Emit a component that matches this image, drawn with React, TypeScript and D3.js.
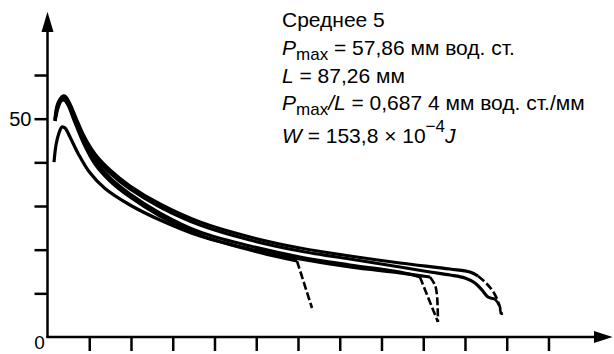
import React, { useEffect, useRef } from "react";
import * as d3 from "d3";

type Pt = [number, number];

// x: длина, мм; y: давление, мм вод. ст.
const curveA: Pt[] = [
  [1.44, 49.92], [1.82, 52.9], [2.4, 54.5], [2.97, 55.19], [3.54, 54.96], [4.31, 53.35],
  [5.46, 50.15], [6.99, 46.03], [9.1, 41.91], [11.98, 38.24], [15.81, 34.58], [21.56, 30.46],
  [29.22, 26.33], [38.8, 22.9], [48.38, 20.38], [57.96, 18.55], [67.54, 16.95], [77.12, 15.57],
  [80.95, 14.88], [82.49, 13.97],
];
const curveADash: Pt[] = [[82.49, 13.97], [84.21, 12.14], [85.56, 10.08], [86.51, 7.56], [87.09, 5.04]];

const curveB: Pt[] = [
  [1.44, 49.46], [1.82, 52.44], [2.4, 54.27], [2.97, 54.73], [3.54, 54.5], [4.31, 52.9],
  [5.46, 49.69], [6.99, 45.57], [9.1, 41.22], [11.98, 37.55], [15.81, 33.89], [21.56, 29.77],
  [29.22, 25.65], [38.8, 22.21], [48.38, 19.69], [57.96, 17.86], [67.54, 16.03], [73.29, 14.88],
  [77.12, 14.2], [79.99, 13.51], [81.91, 12.37], [83.26, 10.76], [84.4, 9.16], [85.75, 8.7],
];
const curveBDash: Pt[] = [[85.75, 8.7], [86.51, 7.33], [86.89, 5.27]];

const curveC: Pt[] = [
  [1.44, 49.69], [2.01, 52.9], [2.59, 54.27], [3.16, 54.5], [3.93, 53.35], [5.08, 50.15],
  [6.99, 44.65], [9.1, 40.3], [11.98, 36.41], [15.81, 32.75], [21.56, 28.39], [29.22, 24.04],
  [38.8, 20.84], [48.38, 18.32], [57.96, 16.49], [67.54, 14.88], [71.37, 13.74],
];
const curveCDash: Pt[] = [[71.37, 13.74], [74.82, 3.43]];

const curveD: Pt[] = [
  [1.25, 40.07], [1.63, 43.97], [2.2, 46.71], [2.78, 48.09], [3.35, 47.86], [4.31, 45.8],
  [5.84, 42.1], [8.14, 37.6], [11.02, 34.0], [15.81, 30.23], [21.56, 26.79], [29.22, 23.13],
  [38.8, 20.15], [48.38, 17.86], [57.96, 16.03], [67.54, 14.66], [73.29, 13.74],
];
const curveDDash: Pt[] = [[73.29, 13.74], [74.25, 11.91], [74.63, 9.62], [74.82, 3.43]];

const curveE: Pt[] = [
  [1.44, 49.46], [2.01, 52.44], [2.59, 54.04], [3.16, 54.27], [3.93, 53.13], [5.08, 49.69],
  [6.99, 44.2], [9.1, 39.62], [11.98, 35.72], [15.81, 32.06], [21.56, 27.71], [29.22, 23.36],
  [38.8, 19.92], [47.81, 17.4],
];
const curveEDash: Pt[] = [[47.81, 17.4], [50.68, 6.64]];

const yTicks = [10, 20, 30, 40, 50, 60];
const yTickLabels = ["", "", "", "", "50", ""];
const xTicks = [8, 16, 24, 32, 40, 48, 56, 64, 72, 80, 88, 96];

const W = 614;
const H = 354;
const FONT = "'Liberation Sans', Arial, sans-serif";

const App = () => {
  const ref = useRef<SVGSVGElement>(null);

  useEffect(() => {
    const svg = d3.select(ref.current);
    svg.selectAll("*").remove();

    const x = d3.scaleLinear().domain([0, 108]).range([47.5, 611.1]);
    const y = d3.scaleLinear().domain([0, 74.5]).range([337, 11.7]);

    // axes
    const yAxis = svg.append("g")
      .attr("transform", `translate(${x(0)},0)`)
      .call(d3.axisLeft(y).tickValues(yTicks).tickSize(13).tickPadding(3)
        .tickFormat((_d, i) => yTickLabels[i]));
    yAxis.select(".domain").remove();
    yAxis.selectAll("line").attr("stroke", "#000").attr("stroke-width", 2.5);
    yAxis.selectAll("text").attr("font-size", 20).attr("font-family", FONT).attr("fill", "#000");

    const xAxis = svg.append("g")
      .attr("transform", `translate(0,${y(0)})`)
      .call(d3.axisBottom(x).tickValues(xTicks).tickSize(14).tickFormat(() => ""));
    xAxis.select(".domain").remove();
    xAxis.selectAll("line").attr("stroke", "#000").attr("stroke-width", 2.5);

    svg.append("line")
      .attr("x1", x(0)).attr("x2", x(0)).attr("y1", y(0) + 1).attr("y2", 30)
      .attr("stroke", "#000").attr("stroke-width", 2.5);
    svg.append("path")
      .attr("d", `M${x(0)},${y(74.5)} L${x(0) - 6},${32} L${x(0) + 6},${32} Z`)
      .attr("fill", "#000");
    svg.append("line")
      .attr("x1", x(0) - 1).attr("x2", 597).attr("y1", y(0)).attr("y2", y(0))
      .attr("stroke", "#000").attr("stroke-width", 2.5);
    svg.append("path")
      .attr("d", `M${x(108) + 1.5},${y(0)} L594,${y(0) - 6} L594,${y(0) + 6} Z`)
      .attr("fill", "#000");

    svg.append("text")
      .attr("x", x(0) - 8).attr("y", 349)
      .attr("text-anchor", "middle")
      .attr("font-size", 19).attr("font-family", FONT)
      .text("0");

    // curves
    const line = d3.line<Pt>()
      .x(d => x(d[0]))
      .y(d => y(d[1]))
      .curve(d3.curveCatmullRom.alpha(0.5));

    const solids = [curveA, curveB, curveC, curveD, curveE];
    const dashes = [curveADash, curveBDash, curveCDash, curveDDash, curveEDash];

    svg.append("g").selectAll("path")
      .data(solids)
      .enter()
      .append("path")
      .attr("d", d => line(d))
      .attr("fill", "none")
      .attr("stroke", "#000")
      .attr("stroke-width", 3.2);

    svg.append("g").selectAll("path")
      .data(dashes)
      .enter()
      .append("path")
      .attr("d", d => line(d))
      .attr("fill", "none")
      .attr("stroke", "#000")
      .attr("stroke-width", 2.6)
      .attr("stroke-dasharray", "8 3");

    // annotation
    const t = svg.append("g").attr("font-family", FONT).attr("font-size", 21).attr("fill", "#000");
    t.append("text").attr("x", 282).attr("y", 27).text("Среднее 5");

    const l2 = t.append("text").attr("x", 282).attr("y", 55);
    l2.append("tspan").attr("font-style", "italic").text("P");
    l2.append("tspan").attr("font-size", 17).attr("dy", 5).text("max");
    l2.append("tspan").attr("dy", -5).text(" = 57,86 мм вод. ст.");

    const l3 = t.append("text").attr("x", 282).attr("y", 83);
    l3.append("tspan").attr("font-style", "italic").text("L");
    l3.append("tspan").text(" = 87,26 мм");

    const l4 = t.append("text").attr("x", 282).attr("y", 110);
    l4.append("tspan").attr("font-style", "italic").text("P");
    l4.append("tspan").attr("font-size", 17).attr("dy", 5).text("max");
    l4.append("tspan").attr("dy", -5).attr("font-style", "italic").text("/L");
    l4.append("tspan").text(" = 0,687 4 мм вод. ст./мм");

    const l5 = t.append("text").attr("x", 282).attr("y", 143);
    l5.append("tspan").attr("font-style", "italic").text("W");
    l5.append("tspan").text(" = 153,8 × 10");
    l5.append("tspan").attr("font-size", 17).attr("dy", -11).text("−4");
    l5.append("tspan").attr("dy", 11).attr("font-style", "italic").text("J");
  }, []);

  return (
    <svg
      ref={ref}
      width={W}
      height={H}
      style={{ position: "absolute", left: 0, top: 0, background: "#fff", display: "block" }}
    />
  );
};

export default App;
